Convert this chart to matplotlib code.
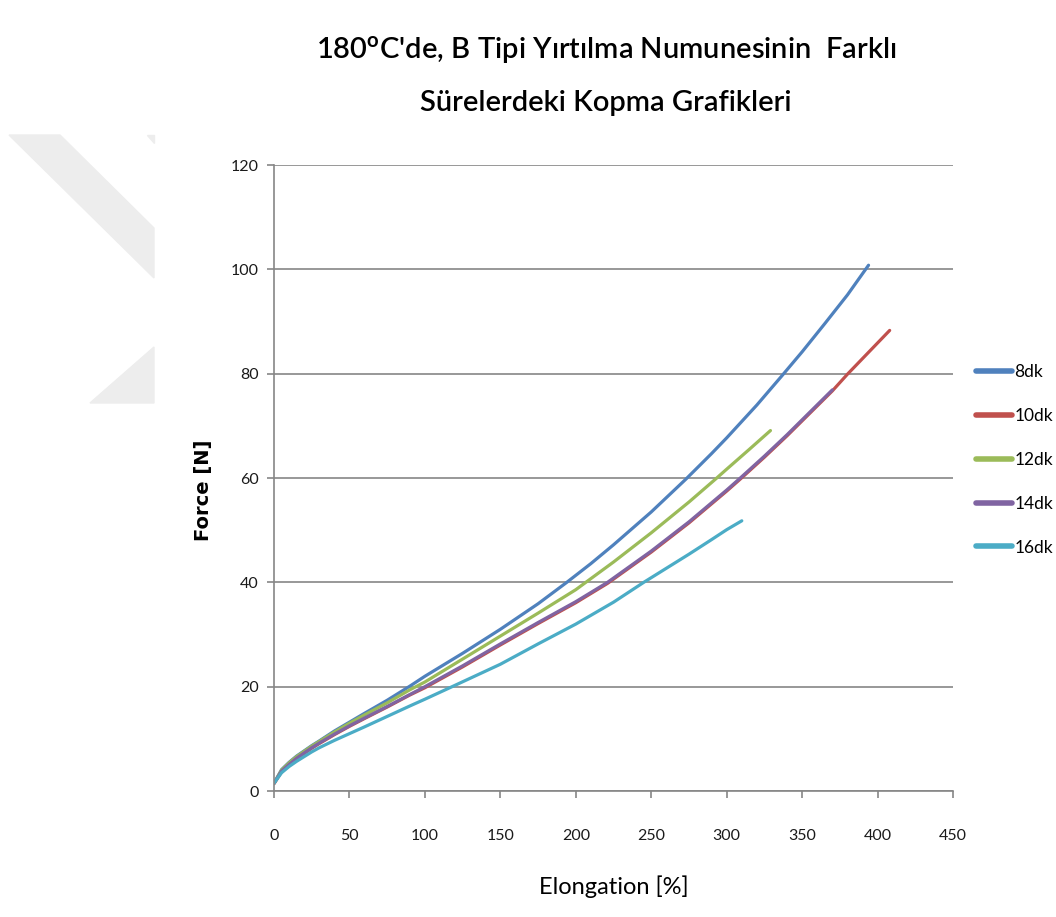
import matplotlib
matplotlib.use('Agg')
import matplotlib.pyplot as plt
from matplotlib.patches import Polygon

plt.rcParams['font.family'] = ['Lato', 'DejaVu Sans']
plt.rcParams['mathtext.fontset'] = 'custom'
plt.rcParams['mathtext.rm'] = 'Lato'
plt.rcParams['mathtext.bf'] = 'Lato:bold'

# values
labels = ['8dk', '10dk', '12dk', '14dk', '16dk']
colors = ['#4F81BD', '#C0504D', '#9BBB59', '#8064A2', '#4BACC6']

x_8 = [0, 5, 10, 15, 20, 25, 30, 40, 50, 60, 75, 90, 100, 125, 150, 175, 194,
       210, 225, 250, 273, 290, 300, 320, 336, 350, 365, 380, 394]
y_8 = [1.5, 4.1, 5.5, 6.7, 7.7, 8.7, 9.6, 11.5, 13.2, 14.9, 17.4, 20.1, 22.0, 26.4, 31.0, 35.9, 40.0,
       43.6, 47.2, 53.5, 59.8, 64.7, 67.7, 74.0, 79.4, 84.2, 89.6, 95.1, 100.8]

x_10 = [0, 5, 10, 15, 20, 25, 30, 40, 50, 60, 75, 90, 100, 125, 150, 175, 200,
        221, 250, 275, 300, 309, 325, 340, 355, 370, 380, 390, 400, 408]
y_10 = [1.4, 3.7, 5.0, 6.2, 7.2, 8.2, 9.1, 10.8, 12.4, 13.9, 16.1, 18.4, 19.8, 23.8, 28.0, 32.1, 36.1,
        39.8, 45.8, 51.4, 57.5, 59.8, 64.0, 68.1, 72.4, 76.7, 79.9, 82.9, 85.9, 88.3]

x_12 = [0, 5, 10, 15, 20, 25, 30, 40, 50, 60, 75, 90, 100, 125, 150, 175, 200,
        225, 250, 275, 293, 300, 315, 329]
y_12 = [1.5, 4.0, 5.4, 6.6, 7.6, 8.6, 9.5, 11.3, 13.0, 14.6, 16.9, 19.4, 20.9, 25.3, 29.7, 34.1, 38.6,
        43.9, 49.5, 55.4, 59.9, 61.7, 65.5, 69.1]

x_14 = [0, 5, 10, 15, 20, 25, 30, 40, 50, 60, 75, 90, 100, 125, 150, 175, 200,
        221, 250, 275, 300, 309, 325, 340, 355, 370]
y_14 = [1.5, 3.8, 5.1, 6.3, 7.3, 8.3, 9.2, 10.9, 12.5, 14.0, 16.2, 18.5, 20.0, 24.0, 28.2, 32.3, 36.3,
        40.0, 46.0, 51.6, 57.7, 60.0, 64.2, 68.3, 72.6, 76.9]

x_16 = [0, 5, 10, 15, 20, 25, 30, 40, 50, 60, 75, 90, 100, 118, 150, 175, 200,
        225, 245, 260, 275, 290, 300, 310]
y_16 = [1.5, 3.5, 4.7, 5.7, 6.6, 7.5, 8.3, 9.7, 11.0, 12.3, 14.3, 16.3, 17.6, 20.0, 24.3, 28.2, 32.0,
        36.2, 40.0, 42.7, 45.4, 48.2, 50.1, 51.8]

xs = [x_8, x_10, x_12, x_14, x_16]
ys = [y_8, y_10, y_12, y_14, y_16]

fig = plt.figure(figsize=(10.56, 9.17), dpi=100)

# light watermark shapes on the left
wm = '#ededed'
fig.patches.append(Polygon([[9 / 1056, 1 - 135 / 917], [60 / 1056, 1 - 135 / 917],
                            [154 / 1056, 1 - 228 / 917], [154 / 1056, 1 - 278 / 917]],
                           closed=True, transform=fig.transFigure, color=wm, zorder=0))
fig.patches.append(Polygon([[147 / 1056, 1 - 135 / 917], [154 / 1056, 1 - 135 / 917],
                            [154 / 1056, 1 - 143 / 917]],
                           closed=True, transform=fig.transFigure, color=wm, zorder=0))
fig.patches.append(Polygon([[90 / 1056, 1 - 403 / 917], [154 / 1056, 1 - 347 / 917],
                            [154 / 1056, 1 - 403 / 917]],
                           closed=True, transform=fig.transFigure, color=wm, zorder=0))

ax = fig.add_axes([0.2595, 0.1374, 0.643, 0.6826])
ax.set_facecolor('none')

for x, y, c, lab in zip(xs, ys, colors, labels):
    ax.plot(x, y, color=c, lw=2.3, label=lab, solid_capstyle='round', solid_joinstyle='round')

ax.set_xlim(0, 450)
ax.set_ylim(0, 120)
ax.set_xticks(range(0, 451, 50))
ax.set_yticks(range(0, 121, 20))
ax.grid(axis='y', color='#868686', lw=1.2)
ax.set_axisbelow(True)
for s in ['top', 'right']:
    ax.spines[s].set_visible(False)
for s in ['left', 'bottom']:
    ax.spines[s].set_color('#868686')
    ax.spines[s].set_linewidth(1.2)
ax.tick_params(axis='both', colors='#868686', labelcolor='#1a1a1a', labelsize=11.5, length=5, width=1.2)
ax.tick_params(axis='x', pad=22)
ax.tick_params(axis='y', pad=6)

ax.set_xlabel('Elongation [%]', fontsize=17, labelpad=24)
ax.set_ylabel('Force [N]', fontsize=14, fontweight='bold', family=['DejaVu Sans'])
ax.yaxis.set_label_coords(-0.09, 0.48)

fig.text(0.574, 0.945, "180$^{\\mathbf{o}}$C'de, B Tipi Yırtılma Numunesinin  Farklı",
         ha='center', va='center', fontsize=21, fontweight='semibold')
fig.text(0.574, 0.888, 'Sürelerdeki Kopma Grafikleri', ha='center', va='center',
         fontsize=21, fontweight='semibold')

leg = ax.legend(loc='center left', bbox_to_anchor=(976 / 1056, 1 - 460 / 917),
                bbox_transform=fig.transFigure, frameon=False, fontsize=12.5,
                borderaxespad=0, borderpad=0,
                handlelength=2.1, handletextpad=0.1, labelspacing=1.6)
for h in leg.get_lines():
    h.set_linewidth(4)

fig.savefig('out.png', dpi=100)
